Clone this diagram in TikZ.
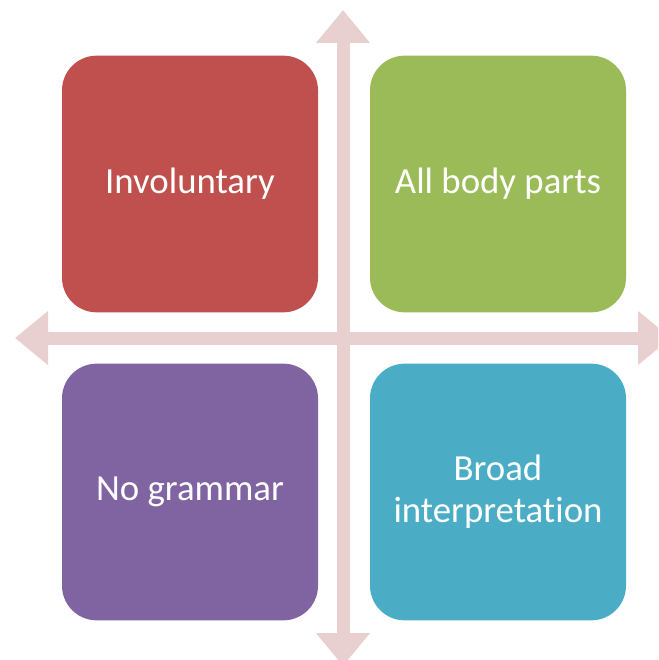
\documentclass[tikz,border=0pt]{standalone}
\usepackage{fontspec}
\setmainfont{Carlito}[Ligatures=NoCommon]
\usetikzlibrary{arrows.meta,positioning}
\definecolor{boxred}{HTML}{C0504D}
\definecolor{boxgreen}{HTML}{9BBB59}
\definecolor{boxpurple}{HTML}{8064A2}
\definecolor{boxteal}{HTML}{4BACC6}
\definecolor{axispink}{HTML}{E8D0D1}
\begin{document}
\begin{tikzpicture}[x=0.75pt,y=-0.75pt,node distance=231pt]
      \useasboundingbox (0,0) rectangle (658,660);
      \clip (0,0) rectangle (658,660);
      % axes
      \coordinate (top) at (343,10);
      \coordinate (bottom) at (343,666);
      \coordinate (left) at (15,338);
      \coordinate (right) at (671,338);
      \begin{scope}[every path/.style={draw=axispink,line width=9.75pt,
          {Triangle[length=24.75pt,width=39pt]}-{Triangle[length=24.75pt,width=39pt]}}]
        \path (top) -- (bottom);
        \path (left) -- (right);
      \end{scope}
      % quadrants
      \begin{scope}[every node/.style={rectangle,rounded corners=26pt,
          minimum width=192pt,minimum height=192.5pt,text=white,align=center,
          font=\fontsize{27.6}{31.5}\selectfont}]
        \node (A)[fill=boxred] at (190,184) {Involuntary};
        \node (B)[fill=boxgreen] [right of= A] {All body parts};
        \node (C)[fill=boxpurple] [below of= A] {No grammar};
        \node (D)[fill=boxteal] [right of= C] {Broad\\interpretation};
      \end{scope}
    \end{tikzpicture}
\end{document}
